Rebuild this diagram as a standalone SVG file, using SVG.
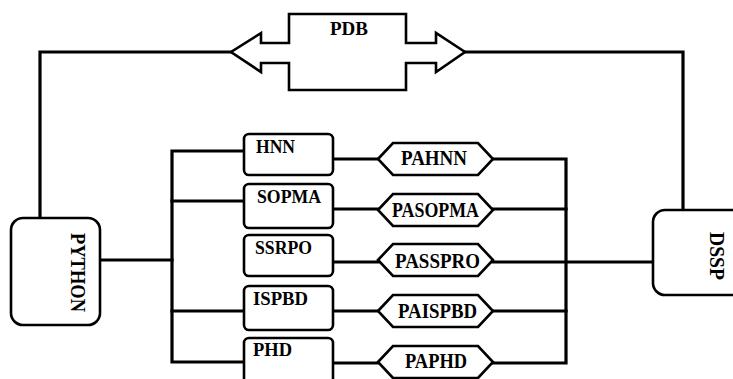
<svg xmlns="http://www.w3.org/2000/svg" width="733" height="379" viewBox="0 0 733 379">
  <style>
    .bg { fill: #ffffff; }
    .wire { fill: none; stroke: #000; stroke-width: 3.2; stroke-linejoin: miter; stroke-linecap: square; }
    .box { fill: #fff; stroke: #000; stroke-width: 2.6; }
    .hex { fill: #fff; stroke: #000; stroke-width: 2.6; stroke-linejoin: miter; }
    .lbl { font-family: "Liberation Serif", "Times New Roman", serif; font-weight: bold; fill: #000; }
    .sm { font-size: 18px; }
    .md { font-size: 20px; }
    .lg { font-size: 21px; }
  </style>
  <rect class="bg" x="0" y="0" width="733" height="379"/>

  <!-- connectors -->
  <g id="connectors">
    <!-- PYTHON / DSSP up to the PDB arrows -->
    <polyline class="wire" points="40,218 40,52 231,52"/>
    <polyline class="wire" points="465,52 683,52 683,210"/>
    <!-- PYTHON to left bus -->
    <line class="wire" x1="100" y1="260" x2="172" y2="260"/>
    <!-- left bus -->
    <polyline class="wire" points="244,151 172,151 172,362 244,362"/>
    <line class="wire" x1="172" y1="201" x2="244" y2="201"/>
    <line class="wire" x1="172" y1="311" x2="244" y2="311"/>
    <!-- predictors to post-processors -->
    <line class="wire" x1="333" y1="159" x2="378" y2="159"/>
    <line class="wire" x1="333" y1="209" x2="378" y2="209"/>
    <line class="wire" x1="333" y1="262" x2="378" y2="262"/>
    <line class="wire" x1="333" y1="311" x2="378" y2="311"/>
    <line class="wire" x1="333" y1="363" x2="378" y2="363"/>
    <!-- right bus -->
    <polyline class="wire" points="493,159 566,159 566,363 493,363"/>
    <line class="wire" x1="493" y1="209" x2="566" y2="209"/>
    <line class="wire" x1="493" y1="311" x2="566" y2="311"/>
    <line class="wire" x1="493" y1="262" x2="653" y2="262"/>
  </g>

  <!-- PDB: double-headed block arrow -->
  <g id="pdb">
    <polygon class="hex" points="289,14 406,14 406,43 436,43 436,33 465,52 436,72 436,63 406,63 406,90 289,90 289,63 261,63 261,72 231,52 261,33 261,43 289,43"/>
    <text class="lbl sm" x="349" y="35" text-anchor="middle" textLength="38" lengthAdjust="spacingAndGlyphs">PDB</text>
  </g>

  <!-- PYTHON -->
  <g id="python">
    <rect class="box" x="11" y="218" width="89" height="107" rx="12"/>
    <text class="lbl lg" transform="translate(71,272.5) rotate(90)" text-anchor="middle" textLength="79" lengthAdjust="spacingAndGlyphs">PYTHON</text>
  </g>

  <!-- DSSP -->
  <g id="dssp">
    <rect class="box" x="653" y="210" width="95" height="85" rx="12"/>
    <text class="lbl lg" transform="translate(710,256) rotate(90)" text-anchor="middle" textLength="48" lengthAdjust="spacingAndGlyphs">DSSP</text>
  </g>

  <!-- predictor boxes -->
  <g id="hnn">
    <rect class="box" x="244" y="134" width="89" height="41" rx="5"/>
    <text class="lbl sm" x="256" y="153" textLength="39" lengthAdjust="spacingAndGlyphs">HNN</text>
  </g>
  <g id="sopma">
    <rect class="box" x="244" y="184" width="89" height="44" rx="5"/>
    <text class="lbl sm" x="257" y="203" textLength="64" lengthAdjust="spacingAndGlyphs">SOPMA</text>
  </g>
  <g id="ssrpo">
    <rect class="box" x="244" y="235" width="89" height="41" rx="5"/>
    <text class="lbl sm" x="255" y="254" textLength="57" lengthAdjust="spacingAndGlyphs">SSRPO</text>
  </g>
  <g id="ispbd">
    <rect class="box" x="244" y="286" width="89" height="44" rx="5"/>
    <text class="lbl sm" x="253" y="305" textLength="55" lengthAdjust="spacingAndGlyphs">ISPBD</text>
  </g>
  <g id="phd">
    <rect class="box" x="244" y="338" width="89" height="50" rx="5"/>
    <text class="lbl sm" x="253" y="356" textLength="39" lengthAdjust="spacingAndGlyphs">PHD</text>
  </g>

  <!-- post-processing hexagons -->
  <g id="pahnn">
    <polygon class="hex" points="378,159 393,143 478,143 493,159 478,175 393,175"/>
    <text class="lbl md" x="434" y="165" text-anchor="middle" textLength="66" lengthAdjust="spacingAndGlyphs">PAHNN</text>
  </g>
  <g id="pasopma">
    <polygon class="hex" points="378,210 393,194 478,194 493,210 478,226 393,226"/>
    <text class="lbl md" x="435.5" y="217" text-anchor="middle" textLength="87" lengthAdjust="spacingAndGlyphs">PASOPMA</text>
  </g>
  <g id="passpro">
    <polygon class="hex" points="378,260 393,244 478,244 493,260 478,276 393,276"/>
    <text class="lbl md" x="437.5" y="268" text-anchor="middle" textLength="85" lengthAdjust="spacingAndGlyphs">PASSPRO</text>
  </g>
  <g id="paispbd">
    <polygon class="hex" points="378,311 393,295 478,295 493,311 478,327 393,327"/>
    <text class="lbl md" x="437.5" y="318" text-anchor="middle" textLength="79" lengthAdjust="spacingAndGlyphs">PAISPBD</text>
  </g>
  <g id="paphd">
    <polygon class="hex" points="378,362 393,346 478,346 493,362 478,378 393,378"/>
    <text class="lbl md" x="436" y="368" text-anchor="middle" textLength="62" lengthAdjust="spacingAndGlyphs">PAPHD</text>
  </g>
</svg>
